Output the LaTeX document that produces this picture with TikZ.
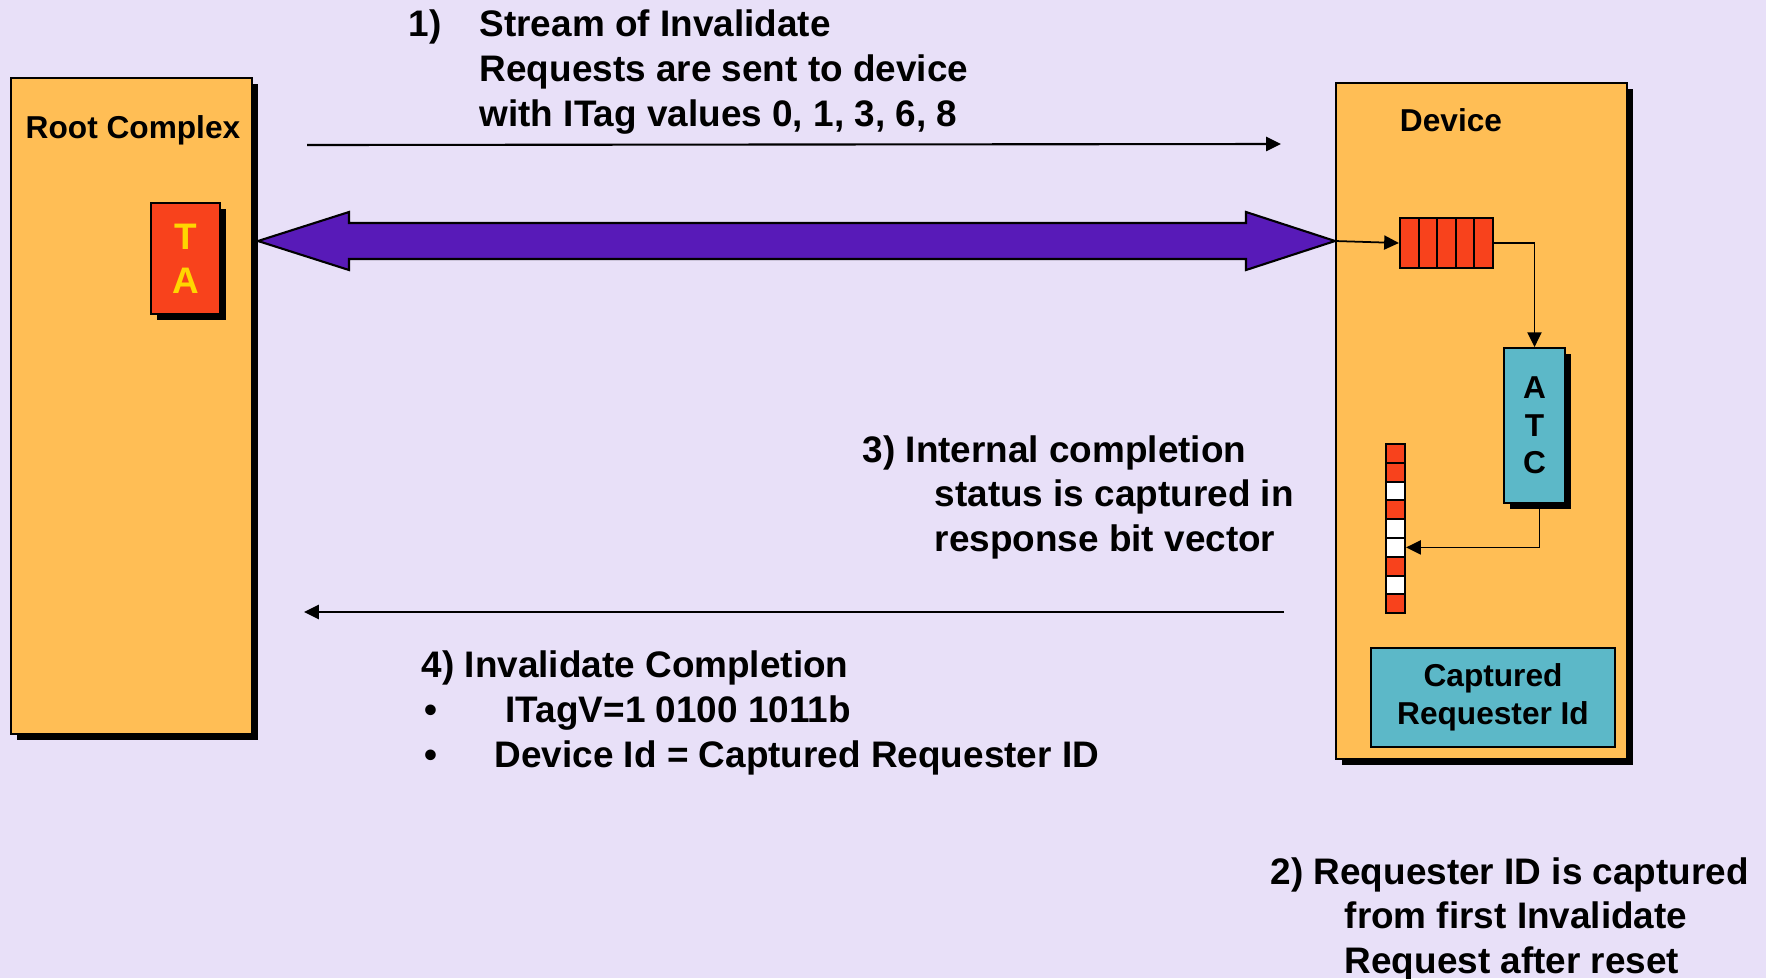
\documentclass[tikz,border=0pt]{standalone}
\usepackage{fontspec}
\setmainfont{Liberation Sans}
\usepackage{xcolor}
\usepackage{tikz}
\usetikzlibrary{shapes,arrows.meta,positioning,calc,shadows}
\definecolor{lavender}{RGB}{232,224,248}
\definecolor{boxorange}{RGB}{255,190,85}
\definecolor{cellred}{RGB}{248,66,28}
\definecolor{atcteal}{RGB}{92,184,200}
\definecolor{linkpurple}{RGB}{88,26,184}
\definecolor{tayellow}{RGB}{255,214,0}
\tikzstyle{block} = [rectangle, draw=black, line width=0.5pt, fill=boxorange, inner sep=0pt,
  drop shadow={shadow xshift=0.06cm, shadow yshift=-0.06cm, fill=black, opacity=1}]
\tikzstyle{cell} = [rectangle, draw=black, line width=0.6pt, fill=cellred, inner sep=0pt]
\tikzstyle{boxtitle} = [anchor=base, inner sep=0pt, font=\fontsize{9}{10.2}\selectfont\bfseries]
\tikzstyle{note} = [anchor=base west, inner sep=0pt, font=\fontsize{10.5}{12.6}\selectfont\bfseries]
\tikzstyle{flow} = [-{Triangle[length=4.2pt,width=4pt]}, line width=0.5pt]

\begin{document}
\begin{tikzpicture}[x=0.01cm, y=-0.01cm]
    \fill[lavender] (0,0) rectangle (1766,978);
    \useasboundingbox (0,0) rectangle (1766,978);
    % root complex with its translation agent
    \node[block, minimum width=2.41cm, minimum height=6.56cm] (rc) at (131.5,406) {};
    \node[boxtitle] (rctitle) at (133,138) {Root Complex};
    \node[block, fill=cellred, minimum width=0.69cm, minimum height=1.11cm, align=center,
          text=tayellow, font=\fontsize{10.5}{12.5}\selectfont\bfseries] (ta) at (185.5,258.5) {T\\A};
    % device side
    \node[block, minimum width=2.91cm, minimum height=6.76cm] (dev) at (1481.5,421) {};
    \node[boxtitle] (devtitle) at (1451,131) {Device};
    \foreach \i in {1,...,5}
        \node[cell, minimum width=0.186cm, minimum height=0.5cm] (q\i) at ({1400+18.6*(\i-0.5)},243) {};
    \node[block, fill=atcteal, minimum width=0.61cm, minimum height=1.55cm, align=center,
          font=\fontsize{9}{10.7}\selectfont\bfseries] (atc) at (1534.5,425.5) {A\\T\\C};
    \foreach \i/\c in {1/cellred,2/cellred,3/white,4/cellred,5/white,6/white,7/cellred,8/white,9/cellred}
        \node[cell, fill=\c, minimum width=0.19cm, minimum height=0.188cm] (b\i) at (1395.5,{444+18.8*(\i-0.5)}) {};
    \node[rectangle, draw=black, line width=0.6pt, fill=atcteal, minimum width=2.44cm, minimum height=0.99cm,
          align=center, font=\fontsize{9}{10.8}\selectfont\bfseries] (capid) at (1493,697.5) {Captured\\Requester Id};
    \draw[flow] (q5.east) -| (atc.north);
    \coordinate (atcout) at ($(atc.south)+(5,0)$);
    \draw[flow] (atcout) |- (b6.east);
    % PCIe link between the two
    \coordinate (linkL) at (258,241);
    \coordinate (linkR) at (dev.west |- linkL);
    \filldraw[fill=linkpurple, draw=black, line width=0.6pt] (linkL) -- ++(91,-29) -- ++(0,11)
        -- ($(linkR)+(-89,-18)$) -- ++(0,-11) -- (linkR) -- ++(-89,29) -- ++(0,-11)
        -- ($(linkL)+(91,18)$) -- ++(0,11) -- cycle;
    \draw[flow] (linkR) -- (q1.west);
    % requests and completion
    \coordinate (reqS) at (307,145);
    \coordinate (reqE) at (1281,144);
    \draw[flow, line width=0.6pt] (reqS) -- (reqE);
    \coordinate (cplS) at (1284,612);
    \coordinate (cplE) at (304,612);
    \draw[flow, line width=0.6pt] (cplS) -- (cplE);
    \node[note] (s1num) at (408,36) {1)};
    \node[note] (s1a) at (479,36) {Stream of Invalidate};
    \node[note] (s1b) at (479,81) {Requests are sent to device};
    \node[note] (s1c) at (479,126) {with ITag values 0, 1, 3, 6, 8};
    \node[note] (s3a) at (862,462) {3) Internal completion};
    \node[note] (s3b) at (934,506) {status is captured in};
    \node[note] (s3c) at (934,551) {response bit vector};
    \node[note] (s4a) at (421,677) {4) Invalidate Completion};
    \node[note] (s4d1) at (424,722) {•};
    \node[note] (s4b) at (505,722) {ITagV=1 0100 1011b};
    \node[note] (s4d2) at (424,767) {•};
    \node[note] (s4c) at (494,767) {Device Id = Captured Requester ID};
    \node[note] (s2a) at (1270,884) {2) Requester ID is captured};
    \node[note] (s2b) at (1344,928) {from first Invalidate};
    \node[note] (s2c) at (1344,973) {Request after reset};
\end{tikzpicture}
\end{document}
